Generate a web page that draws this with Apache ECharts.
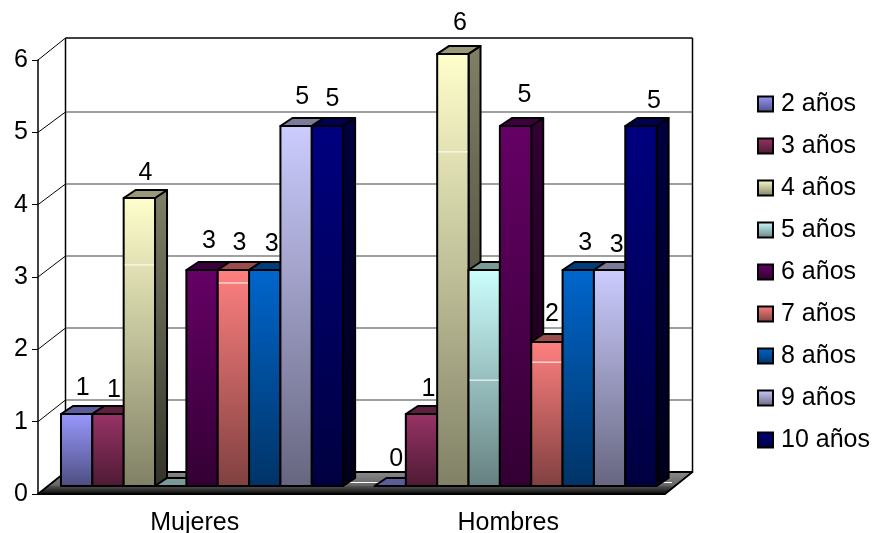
<!DOCTYPE html>
<html>
<head>
<meta charset="utf-8">
<style>html,body{margin:0;padding:0;background:#fff}#chart{width:872px;height:533px}</style>
<script src="https://cdn.jsdelivr.net/npm/echarts@6/dist/echarts.min.js"></script>
</head>
<body>
<div id="chart"></div>
<script>
// Children by age, split by sex
const groups = ['Mujeres', 'Hombres'];
const yTicks = [0, 1, 2, 3, 4, 5, 6];
const ages = ['2 años', '3 años', '4 años', '5 años', '6 años', '7 años', '8 años', '9 años', '10 años'];
const age2 = [1, 0];
const age3 = [1, 1];
const age4 = [4, 6];
const age5 = [0, 3];
const age6 = [3, 5];
const age7 = [3, 2];
const age8 = [3, 3];
const age9 = [5, 3];
const age10 = [5, 5];
const values = [age2, age3, age4, age5, age6, age7, age8, age9, age10];
const colors = ['#9999FF', '#993366', '#FFFFCC', '#CCFFFF', '#660066', '#FF8080', '#0066CC', '#CCCCFF', '#000080'];
// Value labels that stay out of sight behind neighbouring columns: [age index, group index]
const unlabelled = [[3, 0], [3, 1]];
// Thin light streaks on some columns, in axis units: [age index, group index, value]
const glints = [[2, 0, 3.07], [2, 1, 4.64], [3, 1, 1.47], [5, 0, 2.82], [5, 1, 1.72]];
// Fine placement of the value labels, per age and group: [dx, dy]
const labelNudge = [
  [[0, 8], [0, 7]],
  [[0, 10], [1, 9]],
  [[0, 9], [1, 3]],
  [[0, 0], [0, 0]],
  [[1, 5], [3, 3]],
  [[0, 7], [-1, 6]],
  [[1, 8], [1, 7]],
  [[0, 5], [1, 9]],
  [[-1, 7], [7, 9]]
];

const FONT = '"Liberation Sans", Arial, sans-serif';
const FONT_SIZE = 25;
const WALL_DX = 27.5, WALL_DY = -22;   // projection of the chart depth
const BAR_DX = 12, BAR_DY = -8;        // projection of a column's depth
const BAR_SHIFT_X = 7.3, BAR_SHIFT_Y = -8;
const BAND_FILL = 0.9;
const UNIT_SCALE = 0.9955;

function shade(hex, k) {
  const n = parseInt(hex.slice(1), 16);
  const c = [(n >> 16) & 255, (n >> 8) & 255, n & 255].map(v => Math.round(v * k));
  return 'rgb(' + c.join(',') + ')';
}
function fade(hex, a, b) {
  return new echarts.graphic.LinearGradient(0, 0, 0, 1, [
    { offset: 0, color: shade(hex, a) },
    { offset: 1, color: shade(hex, b) }
  ]);
}
function poly(points, style) {
  return { type: 'polygon', shape: { points }, style };
}

// Back wall, side wall and floor
function renderFrame(params, api) {
  const v = api.value(1);
  const p = api.coord([0, v]);
  const r = params.coordSys;
  const x0 = r.x, x1 = r.x + r.width, y = p[1];
  const top = v === yTicks[yTicks.length - 1];
  // The back wall's rows sit slightly closer together than the front scale
  const yBack = y + WALL_DY + (top ? 0 : v / 3);
  const children = [
    { type: 'line', shape: { x1: x0, y1: y, x2: x0 + WALL_DX, y2: yBack },
      style: { stroke: '#000', lineWidth: 1 } },
    { type: 'line', shape: { x1: x0 + WALL_DX, y1: yBack, x2: x1 + WALL_DX, y2: yBack },
      style: { stroke: top ? '#000' : '#808080', lineWidth: 1.5 } }
  ];
  if (top) {
    const yb = api.coord([0, 0])[1] + WALL_DY;
    children.push(
      { type: 'line', shape: { x1: x0 + WALL_DX, y1: yBack, x2: x0 + WALL_DX, y2: yb }, style: { stroke: '#000', lineWidth: 1.5 } },
      { type: 'line', shape: { x1: x1 + WALL_DX, y1: yBack, x2: x1 + WALL_DX, y2: yb }, style: { stroke: '#000', lineWidth: 1.5 } }
    );
  }
  if (v === 0) {
    children.push(poly(
      [[x0, y], [x1, y], [x1 + WALL_DX, y + WALL_DY], [x0 + WALL_DX, y + WALL_DY]],
      {
        fill: new echarts.graphic.LinearGradient(0, 0, 0, 1, [
          { offset: 0, color: '#8c8c8c' },
          { offset: 0.6, color: '#666666' },
          { offset: 0.64, color: '#505050' },
          { offset: 0.88, color: '#1c1c1c' },
          { offset: 1, color: '#000000' }
        ]),
        stroke: '#000', lineWidth: 1.8, lineJoin: 'round'
      }));
    children.push({ type: 'line',
      shape: { x1: x0 + 24, y1: y - 11.5, x2: x1 + 7, y2: y - 11.5 },
      style: { stroke: '#fff', lineWidth: 1 } });
  }
  return { type: 'group', children };
}

// One column: front, side and top faces with its value above
function renderColumn(ageIdx) {
  return function (params, api) {
    const cat = api.value(0), val = api.value(1);
    const base = api.coord([cat, 0]);
    const band = api.size([1, 0])[0];
    const unit = api.size([0, 1])[1] * UNIT_SCALE;
    const w = band * BAND_FILL / ages.length;
    const xl = base[0] + BAR_SHIFT_X - w * ages.length / 2 + ageIdx * w;
    const xr = xl + w;
    const yb = base[1] + BAR_SHIFT_Y;
    const yt = yb - val * unit;
    const color = colors[ageIdx];
    const outline = { stroke: '#000', lineWidth: 2, lineJoin: 'round' };
    const children = [];
    if (val > 0) {
      children.push(poly([[xr, yb], [xr + BAR_DX, yb + BAR_DY], [xr + BAR_DX, yt + BAR_DY], [xr, yt]],
        Object.assign({ fill: fade(color, 0.5, 0.2) }, outline)));
    }
    children.push(poly([[xl, yt], [xr, yt], [xr + BAR_DX, yt + BAR_DY], [xl + BAR_DX, yt + BAR_DY]],
      Object.assign({ fill: shade(color, 0.6) }, outline)));
    if (val > 0) {
      children.push(poly([[xl, yb], [xr, yb], [xr, yt], [xl, yt]],
        Object.assign({ fill: fade(color, 1, 0.5) }, outline)));
    }
    glints.forEach(g => {
      if (g[0] === ageIdx && g[1] === cat) {
        const gy = yb - g[2] * unit;
        children.push({ type: 'line', shape: { x1: xl + 1, y1: gy, x2: xr - 1, y2: gy },
          style: { stroke: '#fff', lineWidth: 1 } });
      }
    });
    if (!unlabelled.some(u => u[0] === ageIdx && u[1] === cat)) {
      const nudge = labelNudge[ageIdx][cat];
      children.push({
        type: 'text', z2: 5,
        style: {
          x: (xl + xr) / 2 + 6 + nudge[0],
          y: yt - 34 + nudge[1],
          text: String(val),
          fill: '#000',
          font: FONT_SIZE + 'px ' + FONT,
          align: 'center',
          verticalAlign: 'middle'
        }
      });
    }
    return { type: 'group', children };
  };
}

const series = [{
  type: 'custom',
  name: 'frame',
  renderItem: renderFrame,
  clip: false,
  silent: true,
  encode: { x: 0, y: 1 },
  data: yTicks.map(v => [0, v])
}];
ages.forEach((name, i) => {
  series.push({
    type: 'custom',
    name,
    renderItem: renderColumn(i),
    clip: false,
    encode: { x: 0, y: 1 },
    itemStyle: { color: colors[i] },
    data: values[i].map((v, c) => [c, v])
  });
});

const chart = echarts.init(document.getElementById('chart'), null, { renderer: 'canvas' });
chart.setOption({
  animation: false,
  backgroundColor: '#fff',
  grid: { left: 38, right: 207, top: 60, bottom: 39, containLabel: false, outerBoundsMode: 'none' },
  xAxis: {
    type: 'category',
    data: groups,
    axisLine: { lineStyle: { color: '#000', width: 1.5 } },
    axisTick: { length: 6, lineStyle: { color: '#000', width: 1 } },
    axisLabel: { color: '#000', fontFamily: FONT, fontSize: FONT_SIZE, margin: 17 }
  },
  yAxis: {
    type: 'value',
    min: 0,
    max: 6,
    interval: 1,
    splitLine: { show: false },
    axisLine: { show: true, lineStyle: { color: '#000', width: 1.5 } },
    axisTick: { show: true, length: 6, lineStyle: { color: '#000', width: 1 } },
    axisLabel: { color: '#000', fontFamily: FONT, fontSize: FONT_SIZE, margin: 10 }
  },
  legend: {
    orient: 'vertical',
    left: 752,
    top: 85,
    itemWidth: 15,
    itemHeight: 15,
    itemGap: 14,
    selectedMode: false,
    textStyle: { color: '#000', fontFamily: FONT, fontSize: FONT_SIZE, lineHeight: 28, padding: [0, 0, 0, 3] },
    data: ages.map((name, i) => ({
      name,
      icon: 'rect',
      itemStyle: { color: fade(colors[i], 1, 0.5), borderColor: '#000', borderWidth: 2 }
    }))
  },
  series
});
</script>
</body>
</html>
